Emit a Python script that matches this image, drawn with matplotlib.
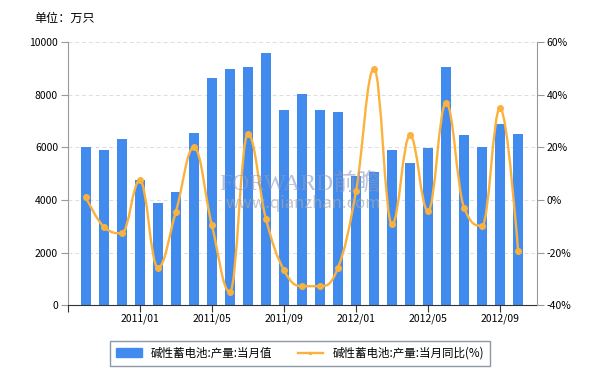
import numpy as np
import matplotlib.pyplot as plt
from matplotlib.path import Path
from matplotlib.patches import PathPatch

plt.rcParams['font.family'] = ['Noto Sans CJK SC', 'DejaVu Sans']

# monthly data 2010/10 .. 2012/10
months = ['2010/10', '2010/11', '2010/12', '2011/01', '2011/02', '2011/03', '2011/04',
          '2011/05', '2011/06', '2011/07', '2011/08', '2011/09', '2011/10', '2011/11',
          '2011/12', '2012/01', '2012/02', '2012/03', '2012/04', '2012/05', '2012/06',
          '2012/07', '2012/08', '2012/09', '2012/10']
output = [6000, 5900, 6300, 4750, 3900, 4300, 6550, 8650, 8980, 9050, 9600, 7400, 8030,
          7400, 7350, 4900, 5050, 5900, 5400, 5970, 9050, 6460, 6000, 6880, 6500]
yoy = [1.0, -10.2, -12.7, 7.5, -25.7, -4.5, 20.0, -9.7, -35.0, 25.0, -7.2, -26.7, -32.8,
       -32.8, -25.8, 3.2, 49.9, -9.3, 24.5, -4.3, 36.9, -2.9, -9.8, 34.9, -19.5]
tick_labels = ['2011/01', '2011/05', '2011/09', '2012/01', '2012/05', '2012/09']

bar_color = '#428BEE'
line_color = '#FBB23C'

x = np.arange(len(months))

fig = plt.figure(figsize=(6, 3.8), dpi=100)
ax = fig.add_axes([0.113, 0.197, 0.782, 0.6925])
ax2 = ax.twinx()
ax.set_zorder(ax2.get_zorder() - 1)
ax.patch.set_visible(True)
ax2.patch.set_visible(False)

ax.bar(x, output, width=0.56, color=bar_color, zorder=2)
ax.set_ylim(0, 10000)
ax.set_yticks(range(0, 10001, 2000))
ax.set_xlim(-1, 25.05)
ticks = [-1] + [months.index(t) for t in tick_labels]
ax.set_xticks(ticks)
ax.set_xticklabels([''] + tick_labels)
ax.grid(axis='y', color='#dddddd', linestyle=(0, (4, 3)), linewidth=0.7, zorder=0)

# smooth line (highcharts-like spline)
def spline_path(xs, ys, smoothing=1.5):
    n = len(xs)
    denom = smoothing + 1
    lc = [None] * n
    rc = [None] * n
    for i in range(n):
        px, py = xs[i], ys[i]
        if i == 0 or i == n - 1:
            lc[i] = (px, py); rc[i] = (px, py)
            continue
        lx = (smoothing * px + xs[i - 1]) / denom
        ly = (smoothing * py + ys[i - 1]) / denom
        rx = (smoothing * px + xs[i + 1]) / denom
        ry = (smoothing * py + ys[i + 1]) / denom
        corr = (ry - ly) * (rx - px) / (rx - lx) + py - ry
        ly += corr; ry += corr
        if ly > ys[i - 1] and ly > py:
            ly = max(ys[i - 1], py); ry = 2 * py - ly
        elif ly < ys[i - 1] and ly < py:
            ly = min(ys[i - 1], py); ry = 2 * py - ly
        if ry > ys[i + 1] and ry > py:
            ry = max(ys[i + 1], py); ly = 2 * py - ry
        elif ry < ys[i + 1] and ry < py:
            ry = min(ys[i + 1], py); ly = 2 * py - ry
        lc[i] = (lx, ly); rc[i] = (rx, ry)
    verts = [(xs[0], ys[0])]
    codes = [Path.MOVETO]
    for i in range(1, n):
        verts += [rc[i - 1], lc[i], (xs[i], ys[i])]
        codes += [Path.CURVE4] * 3
    return Path(verts, codes)

ax2.add_patch(PathPatch(spline_path(list(x), yoy), facecolor='none',
                        edgecolor=line_color, linewidth=1.7, zorder=3))
ax2.plot(x, yoy, 'o', color=line_color, markersize=4, zorder=4)
ax2.set_ylim(-40, 60)
ax2.set_yticks(range(-40, 61, 20))
ax2.set_yticklabels([f'{v}%' for v in range(-40, 61, 20)])

for a in (ax, ax2):
    a.spines['top'].set_visible(False)
    a.spines['left'].set_color('#999999')
    a.spines['right'].set_color('#999999')
    a.spines['bottom'].set_color('#333333')
    a.tick_params(axis='y', length=5, color='#999999', labelsize=7.5, pad=2)
ax.spines['right'].set_visible(False)
ax2.spines['left'].set_visible(False)
ax2.spines['bottom'].set_visible(False)
ax.tick_params(axis='x', length=5, color='#333333', labelsize=7.5, pad=1)

# watermark
fig.text(0.50, 0.515, 'FORWARD前瞻', fontsize=17, color='#8e98bd', alpha=0.6,
         family=['Liberation Serif', 'Noto Sans CJK SC'], ha='center', va='center', zorder=5)
fig.text(0.505, 0.465, 'www.qianzhan.com', fontsize=12, color='#a8a8a8', alpha=0.65,
         ha='center', va='center', zorder=5)

fig.text(0.057, 0.952, '单位：万只', fontsize=8.7, ha='left', va='center')

h1 = plt.Rectangle((0, 0), 1, 1, color=bar_color)
h2, = plt.plot([], [], '-', color=line_color, linewidth=1.7, marker='.', markersize=3)
fig.legend([h1, h2], ['碱性蓄电池:产量:当月值', '碱性蓄电池:产量:当月同比(%)'],
           loc='center', bbox_to_anchor=(0.5, 0.07), ncol=2, fontsize=8.3,
           frameon=True, fancybox=False, edgecolor='#6d7f92', handlelength=2.2,
           handleheight=0.8, columnspacing=2.2, borderpad=0.55)

fig.savefig('out.png', dpi=100)
